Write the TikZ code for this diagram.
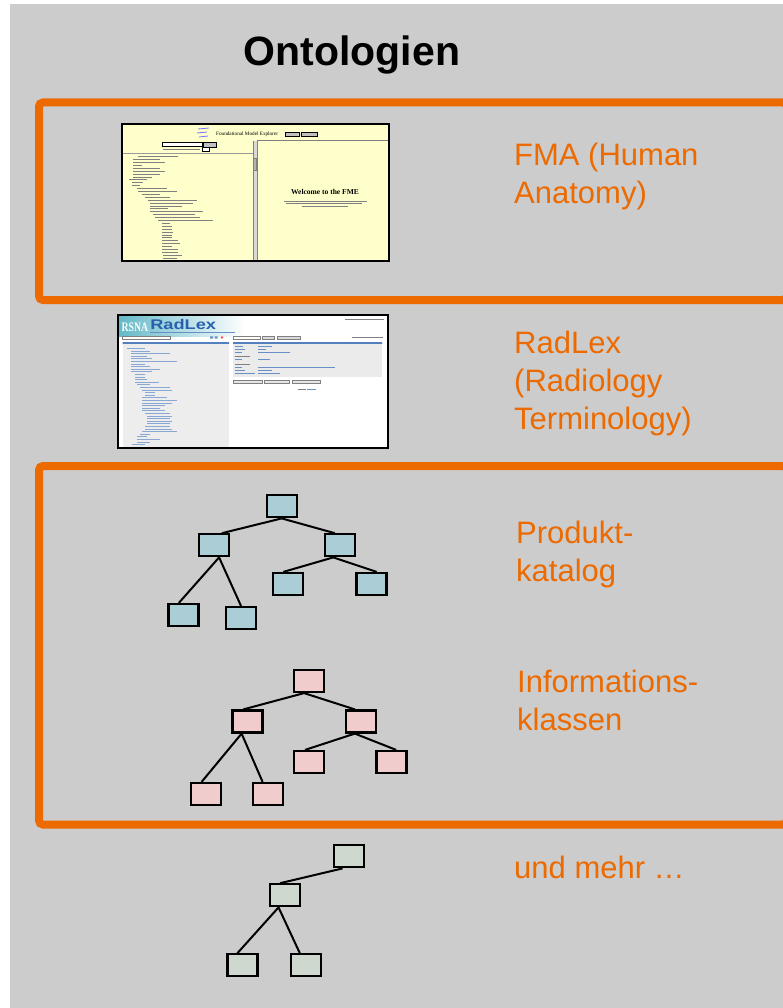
\documentclass[tikz,border=0pt]{standalone}
\usepackage{fontspec}
\setmainfont{Liberation Sans}
\newfontfamily\shotfont{Liberation Serif}
\definecolor{bggray}{RGB}{204,204,204}
\definecolor{frameorange}{RGB}{236,106,0}
\definecolor{pkblue}{RGB}{170,205,214}
\definecolor{ikpink}{RGB}{240,204,204}
\definecolor{umgreen}{RGB}{207,216,206}
\definecolor{fmayellow}{RGB}{255,255,204}
\definecolor{radteal}{RGB}{100,185,200}
\definecolor{radblue}{RGB}{40,95,175}
\begin{document}
\begin{tikzpicture}[x=1pt,y=-1pt,
    frame/.style={draw=frameorange, line width=8pt, rounded corners=4pt},
    tbox/.style={draw, line width=2.2pt, minimum width=30pt, minimum height=22pt, inner sep=0pt},
    pk/.style={tbox, fill=pkblue},
    ik/.style={tbox, fill=ikpink},
    um/.style={tbox, fill=umgreen},
    lbl/.style={anchor=base west, inner sep=0pt, text=frameorange, align=left,
      font=\fontsize{31}{38}\selectfont},
    txtline/.style={black!50, line width=0.9pt}]
  \useasboundingbox (0,0) rectangle (783,1008);
  \fill[white] (0,0) rectangle (783,1008);
  \fill[bggray] (9.5,4.5) rectangle (783,1008);

  \node[anchor=base, inner sep=0pt, font=\bfseries\fontsize{41}{49}\selectfont] (title) at (352,66) {Ontologien};

  \draw[frame] (39,102.5) rectangle (787,300);
  \draw[frame] (39,466) rectangle (787,824.5);

  % FMA screenshot
  \fill[fmayellow] (122,124) rectangle (389,261);
  \draw[blue!55, line width=0.8pt] (198,129) -- (209,128) (197,133) -- (207,132) (199,137) -- (208,136);
  \node[anchor=west, inner sep=0pt, font=\shotfont\fontsize{5.2}{6}\selectfont] (fmahead) at (216,134.7) {Foundational Model Explorer};
  \draw[fill=black!25, line width=0.4pt] (285.3,132.3) rectangle (298.7,136.7) (300.7,132.3) rectangle (317.3,136.7);
  \draw[fill=white, line width=0.4pt] (162.3,142.7) rectangle (201.7,146.7);
  \draw[fill=black!25, line width=0.4pt] (203.3,142.3) rectangle (216,147);
  \draw[txtline] (163,149.5) -- (200,149.5);
  \draw[fill=white, line width=0.4pt] (202,147.5) rectangle (209,151.5);
  \draw[black!40] (122,153.5) -- (252.7,153.5);
  \draw[black!50] (256.7,140.7) -- (389,140.7);
  \fill[black!15] (252.7,141) rectangle (256.7,261);
  \draw[black!50] (252.7,141) -- (252.7,261) (256.7,141) -- (256.7,261);
  \draw[fill=black!30, draw=black!50, line width=0.3pt] (253.2,158) rectangle (256.2,170);
  \foreach \a/\b [count=\i] in {138/178, 133/160, 133/165, 133/142, 133/160, 133/165,
      133/160, 133/152, 129/147, 132/143, 132/140, 137/167, 138/177, 142/160, 145/170,
      148/197, 150/193, 150/182, 150/168, 150/203, 153/195, 155/200, 158/213, 162/170,
      162/172, 162/172, 162/173, 162/172, 162/172, 162/178, 162/180, 162/172, 162/178,
      162/178, 163/182, 163/177}
    \draw[txtline] (\a,{153.8+2.9*\i}) -- (\b,{153.8+2.9*\i});
  \node[inner sep=0pt, font=\shotfont\bfseries\fontsize{7.5}{9}\selectfont] (fmawelcome) at (325,192) {Welcome to the FME};
  \draw[txtline, line width=0.7pt] (284,201) -- (366.7,201) (286,203.7) -- (362,203.7) (302,206.3) -- (348,206.3);
  \draw[line width=2pt] (122,124) rectangle (389,261);

  % RadLex screenshot
  \fill[white] (118,315.3) rectangle (388,448.3);
  \shade[left color=radteal, right color=white] (119,316) rectangle (245,336);
  \node[anchor=base west, inner sep=0pt, xscale=0.75, text=white, font=\shotfont\bfseries\fontsize{13}{14}\selectfont] (rsna) at (121.5,331) {RSNA};
  \node[anchor=base west, inner sep=0pt, xscale=1.3, text=radblue, font=\bfseries\fontsize{14}{16}\selectfont] (radlogo) at (150,329.5) {RadLex};
  \draw[radblue!70, line width=0.6pt] (150,332.2) -- (235,332.2);
  \draw[txtline, line width=0.6pt] (345,319.5) -- (384,319.5) (351.5,337.5) -- (382.5,337.5);
  \draw[fill=white, draw=black!50, line width=0.4pt] (122.5,336) rectangle (170,339.5) (233,336) rectangle (260,339.5);
  \fill[radblue!70] (210,336.3) rectangle (213,338.7) (214.5,336.3) rectangle (217.5,338.7);
  \fill[red!70] (222,337.5) circle (1.4);
  \draw[fill=black!15, draw=black!50, line width=0.4pt] (262.5,336) rectangle (274,339.5) (277.5,336) rectangle (300,339.5);
  \fill[radblue!80] (122.5,342) rectangle (229,344.3) (233,342) rectangle (382,344.3);
  \fill[black!7] (122.5,344.3) rectangle (229,447);
  \foreach \a/\b [count=\i] in {127/145, 131/150, 131/170, 131/147, 131/152, 131/177,
      131/145, 131/150, 131/160, 131/152, 135/145, 135/145, 135/147, 135/159, 137/150,
      140/170, 142/172, 145/155, 145/155, 142/167, 142/177, 142/172, 142/165, 142/160,
      142/165, 145/170, 147/172, 147/170, 147/172, 147/170, 145/170, 145/172, 142/177,
      140/150, 137/147, 137/160, 137/150, 132/145}
    \draw[radblue!55, line width=0.8pt] (\a,{345.7+2.6*\i}) -- (\b,{345.7+2.6*\i});
  \fill[black!8] (233,344.3) rectangle (382,376.7);
  \foreach \y/\l/\v in {346.5/243/272, 349.3/245/266, 352.2/242/290, 359.5/242/270,
      367.5/242/335, 370.5/245/272, 373.5/255/280}
    \draw[line width=0.6pt] (235,\y) -- (\l,\y) [radblue!70] (258,\y) -- (\v,\y);
  \draw[txtline, line width=0.6pt] (235,356.7) -- (250,356.7) (235,364.5) -- (250,364.5);
  \draw[fill=black!10, draw=black!50, line width=0.4pt] (233,380) rectangle (262,383.5)
    (264,380) rectangle (289,383.5) (292,380) rectangle (320,383.5);
  \draw[txtline, line width=0.6pt] (298,389) -- (306,389);
  \draw[radblue!70, line width=0.6pt] (307,389) -- (316,389);
  \draw[line width=2pt] (118,315.3) rectangle (388,448.3);

  % labels (base = last line)
  \node[lbl] (fma) at (514,203.3) {FMA (Human\\Anatomy)};
  \node[lbl] (radlex) at (514,429.3) {RadLex\\(Radiology\\Terminology)};
  \node[lbl] (produkt) at (516,581.7) {Produkt-\\katalog};
  \node[lbl] (info) at (517,730) {Informations-\\klassen};
  \node[lbl] (mehr) at (514,878.3) {und mehr \dots};

  % trees
  \draw
    (281.7,506.3) node[pk] (p0){}
    (213.7,545.3) node[pk] (p1){}
    (340,545.3) node[pk] (p2){}
    (183.5,615) node[pk] (p3){}
    (241,618) node[pk] (p4){}
    (288,584) node[pk] (p5){}
    (371.5,584) node[pk] (p6){};
  \draw
    (309.2,681) node[ik] (i0){}
    (247.5,721.5) node[ik] (i1){}
    (361,721.5) node[ik] (i2){}
    (206,794) node[ik] (i3){}
    (268,794) node[ik] (i4){}
    (309.2,762) node[ik] (i5){}
    (391.5,762) node[ik] (i6){};
  \draw
    (348.7,856.3) node[um] (u0){}
    (284.7,895.3) node[um] (u1){}
    (242.5,965.3) node[um] (u2){}
    (306,965.3) node[um] (u3){};
  \begin{scope}[line width=2pt]
    \draw (p0.south) to (p1.56);
    \draw (p0.south) to (p2.113);
    \draw (p1.-66) to (p3.111);
    \draw (p1.-66) to (p4.north);
    \draw (p2.-119) to (p5.111);
    \draw (p2.-119) to (p6.67);
    \draw (i0.-113) to (i1.109);
    \draw (i0.-113) to (i2.117);
    \draw (i1.-116) to (i3.110);
    \draw (i1.-116) to (i4.114);
    \draw (i2.-117) to (i5.109);
    \draw (i2.-117) to (i6.69);
    \draw (u0.-117) to (u1.111);
    \draw (u1.-117) to (u2.113);
    \draw (u1.-117) to (u3.117);
  \end{scope}
\end{tikzpicture}
\end{document}
